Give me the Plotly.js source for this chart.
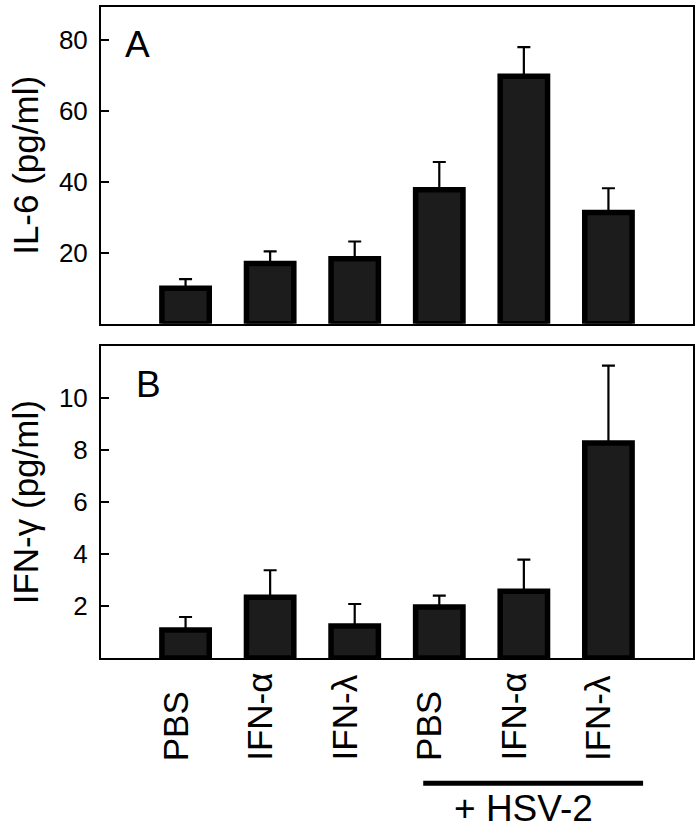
<!DOCTYPE html>
<html>
<head>
<meta charset="utf-8">
<script src="https://cdn.plot.ly/plotly-3.0.1.min.js"></script>
<style>html,body{margin:0;padding:0;background:#fff;}#chart{width:700px;height:834px;}</style>
</head>
<body>
<div id="chart"></div>
<script>
// ---- data ----
const categories = ['PBS', 'IFN-α', 'IFN-λ', 'PBS', 'IFN-α', 'IFN-λ'];
const positions = [0, 1, 2, 3, 4, 5];
const il6 = [10.0, 17.0, 18.3, 37.8, 69.8, 31.4];
const il6Err = [2.6, 3.4, 4.9, 7.8, 8.2, 6.8];
const ifng = [1.08, 2.34, 1.23, 1.96, 2.57, 8.28];
const ifngErr = [0.50, 1.04, 0.85, 0.44, 1.22, 2.98];
const il6Ticks = [20, 40, 60, 80];
const ifngTicks = [2, 4, 6, 8, 10];
const groupLabel = '+ HSV-2';
const hsvGroup = [3, 4, 5];

const FONT = 'Arial, "Liberation Sans", sans-serif';
const zeros = il6.map(() => 0);

function barTrace(y, err, xa, ya) {
  return {
    type: 'bar', x: positions, y: y, xaxis: xa, yaxis: ya,
    width: 0.56,
    marker: {color: '#1c1c1c', line: {color: '#000', width: 5.5}},
    error_y: {type: 'data', symmetric: false, array: err, arrayminus: zeros,
              color: '#000', thickness: 2.2, width: 6.5},
    hoverinfo: 'skip', showlegend: false
  };
}

const data = [barTrace(il6, il6Err, 'x', 'y'), barTrace(ifng, ifngErr, 'x2', 'y2')];

const axisCommon = {
  showline: true, linecolor: '#000', linewidth: 2, mirror: true,
  showgrid: false, zeroline: false
};

const yCommon = Object.assign({}, axisCommon, {
  ticks: 'inside', ticklen: 8, tickwidth: 2, tickcolor: '#000',
  tickfont: {family: FONT, size: 26, color: '#000'},
  ticklabelstandoff: 6
});

const layout = {
  width: 700, height: 834,
  margin: {l: 101, r: 7, t: 7, b: 176},
  paper_bgcolor: '#fff', plot_bgcolor: '#fff',
  bargap: 0.4,
  xaxis: Object.assign({}, axisCommon, {range: [-1, 6], showticklabels: false, ticks: '', anchor: 'y'}),
  xaxis2: Object.assign({}, axisCommon, {range: [-1, 6], showticklabels: false, ticks: '', anchor: 'y2'}),
  yaxis: Object.assign({}, yCommon, {
    domain: [0.5134, 1], range: [0, 89.3], tickvals: il6Ticks, anchor: 'x',
    title: {text: 'IL-6 (pg/ml)', font: {family: FONT, size: 35, color: '#000'}, standoff: 10}
  }),
  yaxis2: Object.assign({}, yCommon, {
    domain: [0, 0.4786], range: [0, 12], tickvals: ifngTicks, anchor: 'x2',
    title: {text: 'IFN-γ (pg/ml)', font: {family: FONT, size: 35, color: '#000'}, standoff: 10}
  }),
  annotations: [
    {text: 'A', xref: 'paper', yref: 'paper', x: 0.037, y: 0.9775, xanchor: 'left', yanchor: 'top',
     showarrow: false, font: {family: FONT, size: 37, color: '#000'}},
    {text: 'B', xref: 'paper', yref: 'paper', x: 0.056, y: 0.455, xanchor: 'left', yanchor: 'top',
     showarrow: false, font: {family: FONT, size: 37, color: '#000'}},
    {text: groupLabel, xref: 'x2', yref: 'paper', x: (hsvGroup[0] + hsvGroup[hsvGroup.length - 1]) / 2, y: -0.231,
     xanchor: 'center', yanchor: 'middle', showarrow: false, font: {family: FONT, size: 37, color: '#000'}}
  ].concat(categories.map((c, i) => ({
    text: c, xref: 'x2', yref: 'paper', x: positions[i] - 0.12, y: -0.161,
    xanchor: 'center', yanchor: 'bottom', textangle: -90, showarrow: false,
    font: {family: FONT, size: 35, color: '#000'}
  }))),
  shapes: [
    {type: 'line', xref: 'x2', yref: 'paper',
     x0: hsvGroup[0] - 0.19, x1: hsvGroup[hsvGroup.length - 1] + 0.41, y0: -0.1925, y1: -0.1925,
     line: {color: '#000', width: 5}}
  ]
};

Plotly.newPlot('chart', data, layout, {staticPlot: true});
</script>
</body>
</html>
